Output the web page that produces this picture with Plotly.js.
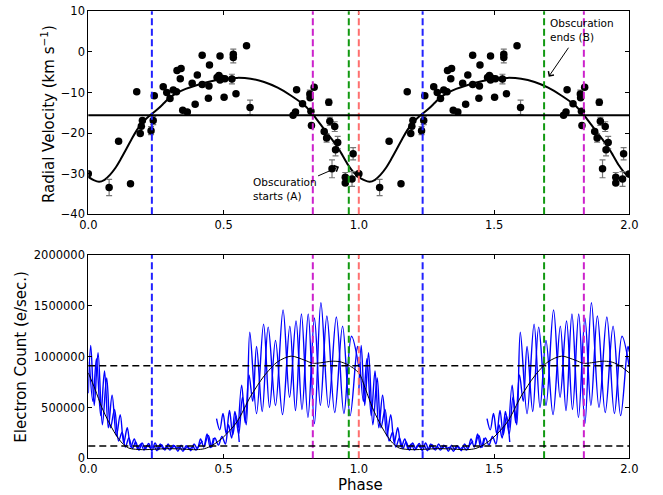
<!DOCTYPE html>
<html>
<head>
<meta charset="utf-8">
<script src="https://cdn.plot.ly/plotly-3.0.1.min.js"></script>
<style>html,body{margin:0;padding:0;background:#fff;}#chart{width:663px;height:495px;}</style>
</head>
<body>
<div id="chart"></div>
<script>
// ---------- Radial velocity data (phase-folded, plotted at phase and phase+1) ----------
const rvPhase = [0.000,0.077,0.112,0.156,0.179,0.192,0.196,0.200,0.232,0.240,0.244,0.277,0.290,0.302,0.314,0.326,0.328,0.343,0.340,0.349,0.366,0.384,0.395,0.403,0.421,0.421,0.444,0.446,0.448,0.476,0.483,0.487,0.487,0.493,0.502,0.505,0.531,0.536,0.536,0.546,0.585,0.598,0.757,0.766,0.770,0.792,0.819,0.820,0.823,0.825,0.835,0.872,0.881,0.889,0.893,0.901,0.911,0.914,0.922,0.950,0.950,0.975,0.979,0.999];
const rvVel   = [-30.0,-33.4,-22.0,-32.5,-9.8,-20.1,-18.3,-16.9,-19.4,-16.9,-10.8,-8.6,-10.0,-11.5,-9.4,-9.8,-4.6,-4.1,-6.6,-14.4,-14.8,-7.7,-12.9,-5.7,-0.8,-8.0,-11.4,-8.4,-3.2,-6.3,-5.8,-1.0,-6.9,-6.5,-11.2,-6.6,-6.7,-0.6,-1.4,-10.3,1.5,-13.7,-15.6,-14.8,-9.3,-12.8,-10.4,-11.3,-14.6,-18.1,-8.7,-19.6,-21.2,-12.4,-17.1,-28.8,-18.4,-24.1,-22.3,-30.9,-32.3,-31.3,-25.1,-30.1];
const rvErr   = [0,2.0,0,0,0,0,0,0,1.0,1.0,0,0,0,0,0,0,0,0,0,0,0,0,0,0,0,0,0,0,0,0,0,0,0,0,0,0,1.2,1.3,1.3,0,0,1.8,0,0,0,0,1.0,0,0,0,0,0,1.0,0.8,1.0,2.2,1.2,1.5,1.5,1.2,0,1.8,1.5,0];

// Orbit model
const rvModelPhase = [0.00,0.02,0.04,0.06,0.08,0.10,0.12,0.14,0.16,0.18,0.20,0.22,0.24,0.26,0.28,0.30,0.33,0.36,0.40,0.45,0.50,0.55,0.60,0.65,0.70,0.75,0.80,0.83,0.85,0.87,0.90,0.92,0.94,0.96,0.98,1.00];
const rvModelVel   = [-30.8,-31.6,-32.0,-31.5,-30.3,-28.6,-26.4,-24.0,-21.5,-19.2,-17.4,-16.1,-15.0,-13.9,-12.6,-11.3,-10.0,-9.1,-8.2,-7.3,-6.7,-6.4,-6.6,-7.4,-8.8,-10.8,-13.2,-15.4,-17.1,-18.9,-21.5,-23.3,-25.5,-27.8,-29.6,-30.8];
const systemicVel = -15.6;

// ---------- Light curve (electron count) segments ----------
const lc1Phase = [0.000,0.009,0.022,0.036,0.052,0.068,0.082,0.097,0.112,0.125,0.137,0.150,0.163,0.175,0.187,0.199,0.211,0.223,0.235,0.247,0.259,0.271,0.283,0.295,0.307,0.319,0.331,0.343,0.355,0.367,0.379,0.391,0.403,0.415,0.427,0.439,0.451,0.463];
const lc1Count = [640000,1110000,520000,1040000,330000,790000,300000,480000,170000,256000,110000,200000,95000,160000,80000,150000,90000,145000,75000,150000,85000,135000,80000,140000,95000,125000,70000,130000,85000,120000,75000,140000,95000,190000,110000,240000,105000,200000];
const lc2Phase = [0.004,0.017,0.030,0.046,0.060,0.074,0.088,0.104,0.118,0.131,0.144,0.157,0.170,0.182,0.194,0.206,0.218,0.230,0.242,0.254,0.266,0.278,0.290,0.302,0.314,0.326,0.338,0.350,0.362,0.374,0.386,0.398,0.410,0.422];
const lc2Count = [950000,560000,980000,420000,860000,300000,620000,220000,430000,150000,300000,110000,190000,95000,140000,80000,130000,100000,120000,75000,140000,90000,115000,80000,130000,100000,110000,70000,125000,90000,115000,80000,130000,170000];
const lc3Phase = [0.474,0.486,0.498,0.510,0.522,0.534,0.546,0.558];
const lc3Count = [390000,280000,440000,240000,470000,230000,420000,160000];
const lc4Phase = [0.430,0.444,0.456,0.468,0.481,0.494,0.507,0.518,0.530,0.542,0.556,0.570,0.584,0.597,0.622,0.648,0.670,0.692,0.718,0.745,0.766,0.788,0.812,0.836,0.858,0.882,0.911,0.940,0.968,0.995,1.000];
const lc4Count = [120000,225000,110000,200000,130000,215000,140000,330000,200000,460000,240000,600000,330000,1240000,440000,1320000,500000,1160000,430000,1300000,470000,1420000,400000,1380000,520000,1400000,450000,1300000,420000,1100000,1050000];
const lc5Phase = [0.555,0.567,0.580,0.594,0.608,0.622,0.643,0.665,0.692,0.720,0.744,0.768,0.790,0.813,0.836,0.860,0.888,0.917,0.945,0.973,1.000];
const lc5Count = [300000,720000,350000,820000,560000,1100000,460000,1290000,520000,1460000,600000,1350000,480000,1420000,340000,1530000,500000,1390000,440000,1200000,900000];

// Light-curve model
const lcModelPhase = [0.00,0.025,0.05,0.075,0.10,0.125,0.15,0.20,0.25,0.30,0.35,0.40,0.43,0.46,0.50,0.55,0.60,0.65,0.70,0.75,0.80,0.83,0.86,0.90,0.93,0.96,1.00];
const lcModelCount = [840000,680000,500000,360000,240000,150000,100000,85000,90000,95000,90000,85000,95000,130000,210000,360000,610000,810000,950000,1005000,965000,935000,940000,955000,950000,920000,840000];
const fluxHigh = 910000;
const fluxLow = 120000;

// Marker phases
const bluePhases = [0.235,1.236];
const magentaPhases = [0.830,1.832];
const greenPhases = [0.963,1.685];
const redPhases = [1.0];

// ---------- helpers ----------
const shift = (a,d) => a.map(v => v + d);
function periodic(x, y){ // plot phase 0..1 and 1..2, dropping duplicated joint point
  return {x: x.concat(shift(x,1).slice(1)), y: y.concat(y.slice(1))};
}
function segs(list){
  const X=[],Y=[];
  [0,1].forEach(d=>{
    list.forEach(([p,c])=>{ X.push(...shift(p,d), null); Y.push(...c, null); });
  });
  return {X,Y};
}
const lc = segs([[lc1Phase,lc1Count],[lc2Phase,lc2Count],[lc3Phase,lc3Count],[lc4Phase,lc4Count],[lc5Phase,lc5Count]]);
const rvM = periodic(rvModelPhase, rvModelVel);
const lcM = periodic(lcModelPhase, lcModelCount);

const FONT = 'DejaVu Sans, Bitstream Vera Sans, sans-serif';

const traces = [
  {x: rvM.x, y: rvM.y, mode:'lines', line:{color:'black', width:2, shape:'spline', smoothing:0.8}, xaxis:'x', yaxis:'y', hoverinfo:'skip'},
  {x: rvPhase.concat(shift(rvPhase,1)), y: rvVel.concat(rvVel), mode:'markers',
   marker:{color:'black', size:7.5},
   error_y:{type:'data', array: rvErr.concat(rvErr), visible:true, color:'#777777', thickness:1.2, width:3},
   xaxis:'x', yaxis:'y'},
  {x: lc.X, y: lc.Y, mode:'lines', line:{color:'#0000ff', width:1.4, shape:'spline', smoothing:1}, connectgaps:false, xaxis:'x2', yaxis:'y2', hoverinfo:'skip'},
  {x: lcM.x, y: lcM.y, mode:'lines', line:{color:'black', width:1, shape:'spline', smoothing:0.8}, xaxis:'x2', yaxis:'y2', hoverinfo:'skip'}
];

const shapes = [];
function vlines(ph, color){
  ph.forEach(p=>{
    ['y','y2'].forEach((ya,k)=>{
      shapes.push({type:'line', xref: k===0?'x':'x2', yref: ya+' domain', x0:p, x1:p, y0:0, y1:1,
        line:{color:color, width:2, dash:'7px,3.5px'}});
    });
  });
}
vlines(bluePhases,'#2222ff');
vlines(magentaPhases,'#cc22cc');
vlines(greenPhases,'#119911');
vlines(redPhases,'#ff7070');
shapes.push({type:'line', xref:'x domain', yref:'y', x0:0, x1:1, y0:systemicVel, y1:systemicVel, line:{color:'black', width:2}});
[fluxHigh, fluxLow].forEach(v=>shapes.push({type:'line', xref:'x2 domain', yref:'y2', x0:0, x1:1, y0:v, y1:v, line:{color:'black', width:1.5, dash:'7px,4px'}}));

const axisBase = {showline:true, linecolor:'black', linewidth:1, mirror:'ticks', ticks:'inside', ticklen:4, tickcolor:'black', tickwidth:1,
  showgrid:false, zeroline:false, tickfont:{family:FONT, size:11.5, color:'black'}, automargin:false, fixedrange:true};
const XD = [88.3/663, 629.3/663];

const annotations = [
  {xref:'paper', yref:'paper', x:48/663, y:1-114/495, text:'Radial Velocity (km s<sup>−1</sup>)', textangle:-90, showarrow:false, xanchor:'center', yanchor:'middle', font:{family:FONT, size:15, color:'black'}},
  {xref:'paper', yref:'paper', x:21/663, y:1-356.7/495, text:'Electron Count (e/sec.)', textangle:-90, showarrow:false, xanchor:'center', yanchor:'middle', font:{family:FONT, size:15, color:'black'}},
  {xref:'paper', yref:'paper', x:360/663, y:1-485/495, text:'Phase', showarrow:false, xanchor:'center', yanchor:'middle', font:{family:FONT, size:15, color:'black'}},
  {xref:'x', yref:'y', x:0.600, y:-33.8, text:'Obscuration<br>starts (A)', showarrow:false, xanchor:'left', yanchor:'middle', align:'left', font:{family:FONT, size:10.5, color:'black'}},
  {xref:'x', yref:'y', x:1.698, y:5.36, text:'Obscuration<br>ends (B)', showarrow:false, xanchor:'left', yanchor:'middle', align:'left', font:{family:FONT, size:10.5, color:'black'}},
  {xref:'x', yref:'y', x:0.927, y:-28.3, axref:'x', ayref:'y', ax:0.844, ay:-30.7, text:'', showarrow:true, arrowhead:4, arrowsize:1.3, arrowwidth:1, arrowcolor:'black', standoff:0, startstandoff:0},
  {xref:'x', yref:'y', x:1.702, y:-6.1, axref:'x', ayref:'y', ax:1.779, ay:1.4, text:'', showarrow:true, arrowhead:4, arrowsize:1.3, arrowwidth:1, arrowcolor:'black', standoff:0, startstandoff:0}
];

const layout = {
  width:663, height:495, margin:{l:0,r:0,t:0,b:0}, paper_bgcolor:'white', plot_bgcolor:'white', showlegend:false,
  font:{family:FONT, color:'black'},
  xaxis: Object.assign({}, axisBase, {domain:XD, anchor:'y', range:[0,2], tickvals:[0,0.5,1,1.5,2], tickformat:'.1f'}),
  yaxis: Object.assign({}, axisBase, {domain:[1-214.3/495, 1-11.3/495], anchor:'x', range:[-40,10], tickvals:[-40,-30,-20,-10,0,10]}),
  xaxis2: Object.assign({}, axisBase, {domain:XD, anchor:'y2', range:[0,2], tickvals:[0,0.5,1,1.5,2], tickformat:'.1f'}),
  yaxis2: Object.assign({}, axisBase, {domain:[1-458.3/495, 1-255/495], anchor:'x2', range:[0,2000000], tickvals:[0,500000,1000000,1500000,2000000], tickformat:'d'}),
  shapes: shapes,
  annotations: annotations
};

Plotly.newPlot('chart', traces, layout, {displayModeBar:false, staticPlot:true});
</script>
</body>
</html>
